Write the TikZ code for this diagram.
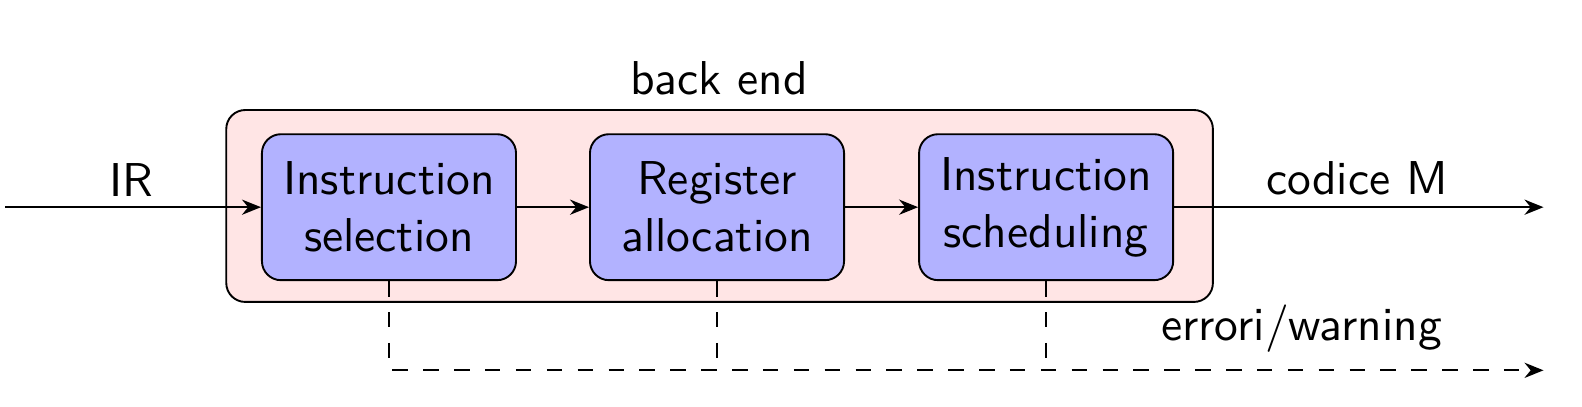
\documentclass[tikz,border=0pt]{standalone}
\usepackage{tikz}
\usetikzlibrary{arrows.meta}

\begin{document}
\begin{tikzpicture}[x=1mm,y=-1mm,line width=.4pt,
  phase/.style={draw,rounded corners=4pt,fill=blue!30,align=center,minimum width=18.8mm,minimum height=10.8mm,inner sep=1pt,font=\sffamily\fontsize{10}{12}\selectfont},
  lbl/.style={anchor=center,inner sep=1pt,font=\sffamily\fontsize{10}{12}\selectfont},
  flow/.style={-{Stealth[length=4pt,width=3.2pt]}},
  errline/.style={dash pattern=on 3.25pt off 3.25pt}]
\path[use as bounding box] (0,0) rectangle (117.05,30.04);
\node[draw,rounded corners=4pt,fill=red!10,minimum width=73mm,minimum height=14.2mm,inner sep=0pt] (backend) at (53.24,15.24) {};
\node[lbl] (backlbl) at (53.2,5.8) {back end};
\node[phase] (sel) at (28.78,15.33) {Instruction\\selection};
\node[phase] (reg) at (53.05,15.33) {Register\\allocation};
\node[phase] (sched) at (77.4,15.33) {Instruction\\scheduling};
\coordinate (irstart) at (0.37,15.33);
\coordinate (mend) at (114.2,15.33);
\coordinate (errend) at (114.2,27.4);
\node[lbl] (ir) at (9.7,13.3) {IR};
\node[lbl] (codice) at (100.4,13.2) {codice M};
\node[lbl] (err) at (96.3,24.3) {errori/warning};
\draw[flow] (irstart) -- (sel);
\draw[flow] (sel) -- (reg);
\draw[flow] (reg) -- (sched);
\draw[flow] (sched) -- (mend);
\draw[flow,errline] (sel.south) |- (errend);
\draw[errline] (reg.south) -- (reg.south |- errend);
\draw[errline] (sched.south) -- (sched.south |- errend);
\end{tikzpicture}
\end{document}
